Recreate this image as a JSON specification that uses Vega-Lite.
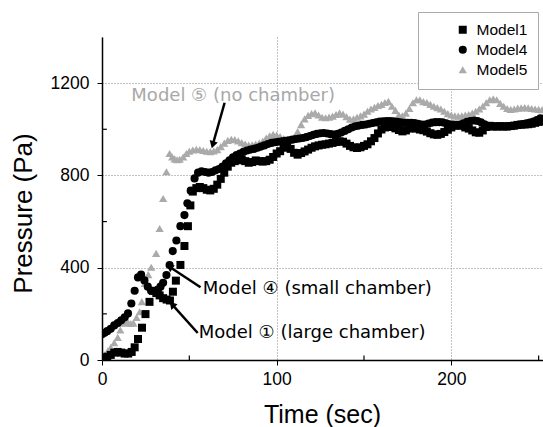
{
"$schema":"https://vega.github.io/schema/vega-lite/v6.json",
"width":441,"height":323,
"autosize":{"type":"none"},
"padding":{"left":102,"top":37,"right":0,"bottom":67},
"background":"white",
"config":{"view":{"stroke":null},"font":"Liberation Sans"},
"datasets":{
"series":[
{"m":"Model5","t":0,"p":12},{"m":"Model5","t":1.5,"p":22},{"m":"Model5","t":3.4,"p":40},{"m":"Model5","t":5,"p":55},{"m":"Model5","t":7,"p":75},{"m":"Model5","t":9,"p":98},{"m":"Model5","t":10.5,"p":130},{"m":"Model5","t":12,"p":160},{"m":"Model5","t":13.5,"p":168},{"m":"Model5","t":15,"p":162},{"m":"Model5","t":16.5,"p":158},{"m":"Model5","t":18,"p":160},{"m":"Model5","t":19.8,"p":185},{"m":"Model5","t":21.6,"p":209},{"m":"Model5","t":22.8,"p":253},{"m":"Model5","t":24.5,"p":332},{"m":"Model5","t":26.5,"p":370},{"m":"Model5","t":28.2,"p":402},{"m":"Model5","t":31,"p":462},{"m":"Model5","t":33,"p":570},{"m":"Model5","t":35,"p":700},{"m":"Model5","t":36.9,"p":816},{"m":"Model5","t":38.7,"p":895},{"m":"Model5","t":40.2,"p":880},{"m":"Model5","t":41.6,"p":872},{"m":"Model5","t":43,"p":868},{"m":"Model5","t":44.5,"p":870},{"m":"Model5","t":46.5,"p":880},{"m":"Model5","t":48.3,"p":895},{"m":"Model5","t":50,"p":905},{"m":"Model5","t":52,"p":910},{"m":"Model5","t":54,"p":913},{"m":"Model5","t":56,"p":912},{"m":"Model5","t":58,"p":908},{"m":"Model5","t":60,"p":905},{"m":"Model5","t":62,"p":903},{"m":"Model5","t":64,"p":906},{"m":"Model5","t":66,"p":912},{"m":"Model5","t":68,"p":925},{"m":"Model5","t":70,"p":940},{"m":"Model5","t":72,"p":952},{"m":"Model5","t":74,"p":957},{"m":"Model5","t":76,"p":955},{"m":"Model5","t":78,"p":950},{"m":"Model5","t":80,"p":942},{"m":"Model5","t":82,"p":936},{"m":"Model5","t":84,"p":932},{"m":"Model5","t":86,"p":933},{"m":"Model5","t":88,"p":936},{"m":"Model5","t":90,"p":940},{"m":"Model5","t":92,"p":948},{"m":"Model5","t":94,"p":962},{"m":"Model5","t":96,"p":972},{"m":"Model5","t":98,"p":978},{"m":"Model5","t":100,"p":975},{"m":"Model5","t":102,"p":968},{"m":"Model5","t":104,"p":960},{"m":"Model5","t":106,"p":956},{"m":"Model5","t":108,"p":958},{"m":"Model5","t":110,"p":965},{"m":"Model5","t":112,"p":990},{"m":"Model5","t":114,"p":1020},{"m":"Model5","t":116,"p":1045},{"m":"Model5","t":118,"p":1060},{"m":"Model5","t":120,"p":1068},{"m":"Model5","t":122,"p":1071},{"m":"Model5","t":124,"p":1062},{"m":"Model5","t":126,"p":1052},{"m":"Model5","t":128,"p":1050},{"m":"Model5","t":130,"p":1053},{"m":"Model5","t":132,"p":1057},{"m":"Model5","t":134,"p":1064},{"m":"Model5","t":136,"p":1071},{"m":"Model5","t":138,"p":1066},{"m":"Model5","t":140,"p":1055},{"m":"Model5","t":142,"p":1044},{"m":"Model5","t":144,"p":1045},{"m":"Model5","t":146,"p":1052},{"m":"Model5","t":148,"p":1058},{"m":"Model5","t":150,"p":1066},{"m":"Model5","t":152,"p":1078},{"m":"Model5","t":154,"p":1088},{"m":"Model5","t":156,"p":1095},{"m":"Model5","t":158,"p":1103},{"m":"Model5","t":160,"p":1108},{"m":"Model5","t":162,"p":1116},{"m":"Model5","t":164,"p":1121},{"m":"Model5","t":166,"p":1100},{"m":"Model5","t":168,"p":1082},{"m":"Model5","t":170,"p":1062},{"m":"Model5","t":172,"p":1058},{"m":"Model5","t":174,"p":1070},{"m":"Model5","t":176,"p":1090},{"m":"Model5","t":178,"p":1115},{"m":"Model5","t":180,"p":1128},{"m":"Model5","t":182,"p":1128},{"m":"Model5","t":184,"p":1120},{"m":"Model5","t":186,"p":1116},{"m":"Model5","t":188,"p":1108},{"m":"Model5","t":190,"p":1100},{"m":"Model5","t":192,"p":1094},{"m":"Model5","t":194,"p":1088},{"m":"Model5","t":196,"p":1078},{"m":"Model5","t":198,"p":1068},{"m":"Model5","t":200,"p":1062},{"m":"Model5","t":202,"p":1058},{"m":"Model5","t":204,"p":1057},{"m":"Model5","t":206,"p":1058},{"m":"Model5","t":208,"p":1062},{"m":"Model5","t":210,"p":1064},{"m":"Model5","t":212,"p":1070},{"m":"Model5","t":214,"p":1078},{"m":"Model5","t":216,"p":1088},{"m":"Model5","t":218,"p":1100},{"m":"Model5","t":220,"p":1115},{"m":"Model5","t":222,"p":1128},{"m":"Model5","t":224,"p":1132},{"m":"Model5","t":226,"p":1128},{"m":"Model5","t":228,"p":1112},{"m":"Model5","t":230,"p":1100},{"m":"Model5","t":232,"p":1090},{"m":"Model5","t":234,"p":1086},{"m":"Model5","t":236,"p":1088},{"m":"Model5","t":238,"p":1092},{"m":"Model5","t":240,"p":1093},{"m":"Model5","t":242,"p":1094},{"m":"Model5","t":244,"p":1093},{"m":"Model5","t":246,"p":1090},{"m":"Model5","t":248,"p":1088},{"m":"Model5","t":250,"p":1086},{"m":"Model5","t":252,"p":1085},
{"m":"Model1","t":0,"p":5},{"m":"Model1","t":1.5,"p":10},{"m":"Model1","t":3,"p":14},{"m":"Model1","t":5,"p":22},{"m":"Model1","t":7,"p":32},{"m":"Model1","t":9,"p":35},{"m":"Model1","t":11,"p":32},{"m":"Model1","t":13,"p":28},{"m":"Model1","t":15,"p":28},{"m":"Model1","t":17,"p":35},{"m":"Model1","t":18.7,"p":55},{"m":"Model1","t":20.6,"p":91},{"m":"Model1","t":22.9,"p":140},{"m":"Model1","t":24.9,"p":199},{"m":"Model1","t":27.2,"p":252},{"m":"Model1","t":29.2,"p":300},{"m":"Model1","t":31.1,"p":290},{"m":"Model1","t":33,"p":280},{"m":"Model1","t":35,"p":268},{"m":"Model1","t":37,"p":262},{"m":"Model1","t":38.9,"p":258},{"m":"Model1","t":40.6,"p":296},{"m":"Model1","t":42.3,"p":344},{"m":"Model1","t":44.9,"p":412},{"m":"Model1","t":47.2,"p":494},{"m":"Model1","t":49.2,"p":580},{"m":"Model1","t":50.6,"p":670},{"m":"Model1","t":52,"p":730},{"m":"Model1","t":54,"p":745},{"m":"Model1","t":56,"p":750},{"m":"Model1","t":58,"p":745},{"m":"Model1","t":60,"p":738},{"m":"Model1","t":62,"p":735},{"m":"Model1","t":64,"p":742},{"m":"Model1","t":66,"p":760},{"m":"Model1","t":68,"p":785},{"m":"Model1","t":70,"p":812},{"m":"Model1","t":72,"p":838},{"m":"Model1","t":74,"p":855},{"m":"Model1","t":76,"p":862},{"m":"Model1","t":78,"p":866},{"m":"Model1","t":80,"p":867},{"m":"Model1","t":82,"p":862},{"m":"Model1","t":84,"p":855},{"m":"Model1","t":86,"p":858},{"m":"Model1","t":88,"p":865},{"m":"Model1","t":90,"p":862},{"m":"Model1","t":92,"p":860},{"m":"Model1","t":94,"p":862},{"m":"Model1","t":96,"p":868},{"m":"Model1","t":98,"p":880},{"m":"Model1","t":100,"p":895},{"m":"Model1","t":102,"p":905},{"m":"Model1","t":104,"p":920},{"m":"Model1","t":106,"p":926},{"m":"Model1","t":108,"p":915},{"m":"Model1","t":110,"p":898},{"m":"Model1","t":112,"p":890},{"m":"Model1","t":114,"p":897},{"m":"Model1","t":116,"p":904},{"m":"Model1","t":118,"p":912},{"m":"Model1","t":120,"p":920},{"m":"Model1","t":122,"p":926},{"m":"Model1","t":124,"p":930},{"m":"Model1","t":126,"p":933},{"m":"Model1","t":128,"p":935},{"m":"Model1","t":130,"p":938},{"m":"Model1","t":132,"p":941},{"m":"Model1","t":134,"p":945},{"m":"Model1","t":136,"p":948},{"m":"Model1","t":138,"p":946},{"m":"Model1","t":140,"p":938},{"m":"Model1","t":142,"p":928},{"m":"Model1","t":144,"p":922},{"m":"Model1","t":146,"p":919},{"m":"Model1","t":148,"p":922},{"m":"Model1","t":150,"p":928},{"m":"Model1","t":152,"p":935},{"m":"Model1","t":154,"p":948},{"m":"Model1","t":156,"p":962},{"m":"Model1","t":158,"p":982},{"m":"Model1","t":160,"p":999},{"m":"Model1","t":162,"p":1008},{"m":"Model1","t":164,"p":1013},{"m":"Model1","t":166,"p":1010},{"m":"Model1","t":168,"p":1004},{"m":"Model1","t":170,"p":997},{"m":"Model1","t":172,"p":991},{"m":"Model1","t":174,"p":995},{"m":"Model1","t":176,"p":1003},{"m":"Model1","t":178,"p":1006},{"m":"Model1","t":180,"p":1003},{"m":"Model1","t":182,"p":999},{"m":"Model1","t":184,"p":996},{"m":"Model1","t":186,"p":990},{"m":"Model1","t":188,"p":983},{"m":"Model1","t":190,"p":978},{"m":"Model1","t":192,"p":976},{"m":"Model1","t":194,"p":980},{"m":"Model1","t":196,"p":988},{"m":"Model1","t":198,"p":998},{"m":"Model1","t":200,"p":1008},{"m":"Model1","t":202,"p":1015},{"m":"Model1","t":204,"p":1019},{"m":"Model1","t":206,"p":1015},{"m":"Model1","t":208,"p":1008},{"m":"Model1","t":210,"p":1003},{"m":"Model1","t":212,"p":995},{"m":"Model1","t":214,"p":987},{"m":"Model1","t":216,"p":985},{"m":"Model1","t":218,"p":995},{"m":"Model1","t":220,"p":1010},{"m":"Model1","t":222,"p":1015},{"m":"Model1","t":224,"p":1013},{"m":"Model1","t":226,"p":1012},{"m":"Model1","t":228,"p":1013},{"m":"Model1","t":230,"p":1012},{"m":"Model1","t":232,"p":1013},{"m":"Model1","t":234,"p":1014},{"m":"Model1","t":236,"p":1016},{"m":"Model1","t":238,"p":1019},{"m":"Model1","t":240,"p":1020},{"m":"Model1","t":242,"p":1021},{"m":"Model1","t":244,"p":1022},{"m":"Model1","t":246,"p":1024},{"m":"Model1","t":248,"p":1028},{"m":"Model1","t":250,"p":1032},{"m":"Model1","t":252,"p":1035},
{"m":"Model4","t":0,"p":112},{"m":"Model4","t":1.5,"p":118},{"m":"Model4","t":3,"p":125},{"m":"Model4","t":5,"p":135},{"m":"Model4","t":7,"p":150},{"m":"Model4","t":9,"p":160},{"m":"Model4","t":11,"p":172},{"m":"Model4","t":13,"p":185},{"m":"Model4","t":14.9,"p":202},{"m":"Model4","t":16.8,"p":245},{"m":"Model4","t":18.7,"p":300},{"m":"Model4","t":20.6,"p":358},{"m":"Model4","t":22.4,"p":370},{"m":"Model4","t":24.3,"p":345},{"m":"Model4","t":26.2,"p":318},{"m":"Model4","t":28.1,"p":300},{"m":"Model4","t":30,"p":298},{"m":"Model4","t":32,"p":305},{"m":"Model4","t":33.5,"p":318},{"m":"Model4","t":35,"p":335},{"m":"Model4","t":36.9,"p":368},{"m":"Model4","t":38.7,"p":412},{"m":"Model4","t":40.5,"p":472},{"m":"Model4","t":42.6,"p":518},{"m":"Model4","t":44.9,"p":580},{"m":"Model4","t":47.2,"p":628},{"m":"Model4","t":48.9,"p":679},{"m":"Model4","t":50.8,"p":734},{"m":"Model4","t":53,"p":787},{"m":"Model4","t":55,"p":812},{"m":"Model4","t":57,"p":818},{"m":"Model4","t":59,"p":815},{"m":"Model4","t":61,"p":812},{"m":"Model4","t":63,"p":815},{"m":"Model4","t":65,"p":822},{"m":"Model4","t":67,"p":828},{"m":"Model4","t":69,"p":838},{"m":"Model4","t":71,"p":852},{"m":"Model4","t":73,"p":866},{"m":"Model4","t":75,"p":878},{"m":"Model4","t":77,"p":888},{"m":"Model4","t":79,"p":895},{"m":"Model4","t":81,"p":902},{"m":"Model4","t":83,"p":908},{"m":"Model4","t":85,"p":912},{"m":"Model4","t":87,"p":915},{"m":"Model4","t":89,"p":920},{"m":"Model4","t":91,"p":925},{"m":"Model4","t":93,"p":930},{"m":"Model4","t":95,"p":936},{"m":"Model4","t":97,"p":941},{"m":"Model4","t":99,"p":944},{"m":"Model4","t":101,"p":946},{"m":"Model4","t":103,"p":948},{"m":"Model4","t":105,"p":950},{"m":"Model4","t":107,"p":952},{"m":"Model4","t":109,"p":955},{"m":"Model4","t":111,"p":958},{"m":"Model4","t":113,"p":960},{"m":"Model4","t":115,"p":962},{"m":"Model4","t":117,"p":966},{"m":"Model4","t":119,"p":971},{"m":"Model4","t":121,"p":976},{"m":"Model4","t":123,"p":980},{"m":"Model4","t":125,"p":983},{"m":"Model4","t":127,"p":984},{"m":"Model4","t":129,"p":982},{"m":"Model4","t":131,"p":979},{"m":"Model4","t":133,"p":977},{"m":"Model4","t":135,"p":980},{"m":"Model4","t":137,"p":986},{"m":"Model4","t":139,"p":993},{"m":"Model4","t":141,"p":1000},{"m":"Model4","t":143,"p":1008},{"m":"Model4","t":145,"p":1013},{"m":"Model4","t":147,"p":1016},{"m":"Model4","t":149,"p":1019},{"m":"Model4","t":151,"p":1021},{"m":"Model4","t":153,"p":1024},{"m":"Model4","t":155,"p":1027},{"m":"Model4","t":157,"p":1030},{"m":"Model4","t":159,"p":1033},{"m":"Model4","t":161,"p":1035},{"m":"Model4","t":163,"p":1036},{"m":"Model4","t":165,"p":1036},{"m":"Model4","t":167,"p":1035},{"m":"Model4","t":169,"p":1032},{"m":"Model4","t":171,"p":1030},{"m":"Model4","t":173,"p":1028},{"m":"Model4","t":175,"p":1028},{"m":"Model4","t":177,"p":1028},{"m":"Model4","t":179,"p":1027},{"m":"Model4","t":181,"p":1024},{"m":"Model4","t":183,"p":1021},{"m":"Model4","t":185,"p":1020},{"m":"Model4","t":187,"p":1025},{"m":"Model4","t":189,"p":1029},{"m":"Model4","t":191,"p":1031},{"m":"Model4","t":193,"p":1031},{"m":"Model4","t":195,"p":1030},{"m":"Model4","t":197,"p":1026},{"m":"Model4","t":199,"p":1022},{"m":"Model4","t":201,"p":1020},{"m":"Model4","t":203,"p":1019},{"m":"Model4","t":205,"p":1020},{"m":"Model4","t":207,"p":1026},{"m":"Model4","t":209,"p":1032},{"m":"Model4","t":211,"p":1036},{"m":"Model4","t":213,"p":1038},{"m":"Model4","t":215,"p":1036},{"m":"Model4","t":217,"p":1030},{"m":"Model4","t":219,"p":1022},{"m":"Model4","t":221,"p":1015},{"m":"Model4","t":223,"p":1012},{"m":"Model4","t":225,"p":1012},{"m":"Model4","t":227,"p":1013},{"m":"Model4","t":229,"p":1013},{"m":"Model4","t":231,"p":1012},{"m":"Model4","t":233,"p":1012},{"m":"Model4","t":235,"p":1014},{"m":"Model4","t":237,"p":1017},{"m":"Model4","t":239,"p":1020},{"m":"Model4","t":241,"p":1023},{"m":"Model4","t":243,"p":1026},{"m":"Model4","t":245,"p":1029},{"m":"Model4","t":247,"p":1033},{"m":"Model4","t":249,"p":1040},{"m":"Model4","t":251,"p":1048}
],
"notesGray":[{"label":"Model ⑤ (no chamber)","t":16.8,"p":1143}],
"notesBlack":[{"label":"Model ④ (small chamber)","t":57.7,"p":307},{"label":"Model ① (large chamber)","t":55.4,"p":115}],
"arrows":[{"id":"a5","t":70.2,"p":1115,"t2":63.4,"p2":933},{"id":"a4","t":56.4,"p":315,"t2":38.6,"p2":404},{"id":"a1","t":54.8,"p":117,"t2":40.1,"p2":241}],
"minorX":[{"t":50},{"t":150},{"t":250}],
"minorY":[{"p":200},{"p":600},{"p":1000}]
},
"layer":[
{"data":{"name":"series"},
 "mark":{"type":"point","filled":true,"opacity":1,"clip":true},
 "encoding":{
  "x":{"field":"t","type":"quantitative","scale":{"domain":[0,252.5],"nice":false,"zero":false},
   "axis":{"values":[0,100,200],"format":"d","title":"Time (sec)","titleFontSize":25,"titleFontWeight":"normal","titleColor":"black","titleX":220,"titleY":62,"titleAlign":"center","titleBaseline":"alphabetic","labelFontSize":17.5,"labelColor":"black","labelPadding":5,"labelFlush":false,"tickSize":5,"tickColor":"black","domainColor":"black","domainWidth":1.5,"grid":true,"gridDash":[1,2],"gridColor":"#888","gridOpacity":1}},
  "y":{"field":"p","type":"quantitative","scale":{"domain":[0,1400],"nice":false},
   "axis":{"values":[0,400,800,1200],"format":"d","title":"Pressure (Pa)","titleFontSize":26,"titleFontWeight":"normal","titleColor":"black","titleX":-79,"titleY":176,"titleAngle":-90,"titleAlign":"center","titleBaseline":"middle","labelFontSize":17.5,"labelColor":"black","labelPadding":8,"tickSize":5,"tickColor":"black","domainColor":"black","domainWidth":1.5,"grid":true,"gridDash":[1,2],"gridColor":"#888","gridOpacity":1}},
  "color":{"field":"m","type":"nominal","scale":{"domain":["Model1","Model4","Model5"],"range":["#000000","#000000","#aaaaaa"]},
   "legend":{"title":null,"orient":"none","legendX":316,"legendY":-25,"padding":10,"symbolOffset":27,"labelOffset":6,"labelFontSize":15.5,"labelColor":"black","symbolSize":55,"rowPadding":3,"strokeColor":"#aaa","fillColor":"white","encode":{"legend":{"update":{"strokeDash":{"value":[2,2]}}}}}},
  "shape":{"field":"m","type":"nominal","scale":{"domain":["Model1","Model4","Model5"],"range":["square","circle","triangle-up"]}},
  "size":{"field":"m","type":"nominal","scale":{"domain":["Model1","Model4","Model5"],"range":[64,68,26]},"legend":null}
 }},
{"data":{"name":"minorX"},"mark":{"type":"rule","color":"black","strokeWidth":1.2},
 "encoding":{"x":{"field":"t","type":"quantitative"},"y":{"datum":0},"y2":{"datum":20}}},
{"data":{"name":"minorY"},"mark":{"type":"rule","color":"black","strokeWidth":1.2},
 "encoding":{"y":{"field":"p","type":"quantitative"},"x":{"datum":0},"x2":{"datum":2.8}}},
{"data":{"name":"arrows"},"mark":{"type":"rule","color":"black","strokeWidth":2.5},
 "encoding":{"x":{"field":"t","type":"quantitative"},"y":{"field":"p","type":"quantitative"},"x2":{"field":"t2"},"y2":{"field":"p2"}}},
{"data":{"name":"arrows"},"transform":[{"filter":"datum.id == 'a5'"}],"mark":{"type":"point","shape":"triangle-up","filled":true,"opacity":1,"color":"black","size":70,"angle":196},
 "encoding":{"x":{"field":"t2","type":"quantitative"},"y":{"field":"p2","type":"quantitative"}}},
{"data":{"name":"arrows"},"transform":[{"filter":"datum.id == 'a4'"}],"mark":{"type":"point","shape":"triangle-up","filled":true,"opacity":1,"color":"black","size":70,"angle":303},
 "encoding":{"x":{"field":"t2","type":"quantitative"},"y":{"field":"p2","type":"quantitative"}}},
{"data":{"name":"arrows"},"transform":[{"filter":"datum.id == 'a1'"}],"mark":{"type":"point","shape":"triangle-up","filled":true,"opacity":1,"color":"black","size":70,"angle":318},
 "encoding":{"x":{"field":"t2","type":"quantitative"},"y":{"field":"p2","type":"quantitative"}}},
{"data":{"name":"notesGray"},"mark":{"type":"text","align":"left","baseline":"middle","font":"DejaVu Sans","fontSize":18,"color":"#a8a8a8"},
 "encoding":{"x":{"field":"t","type":"quantitative"},"y":{"field":"p","type":"quantitative"},"text":{"field":"label"}}},
{"data":{"name":"notesBlack"},"mark":{"type":"text","align":"left","baseline":"middle","font":"DejaVu Sans","fontSize":18,"color":"black"},
 "encoding":{"x":{"field":"t","type":"quantitative"},"y":{"field":"p","type":"quantitative"},"text":{"field":"label"}}}
]
}
